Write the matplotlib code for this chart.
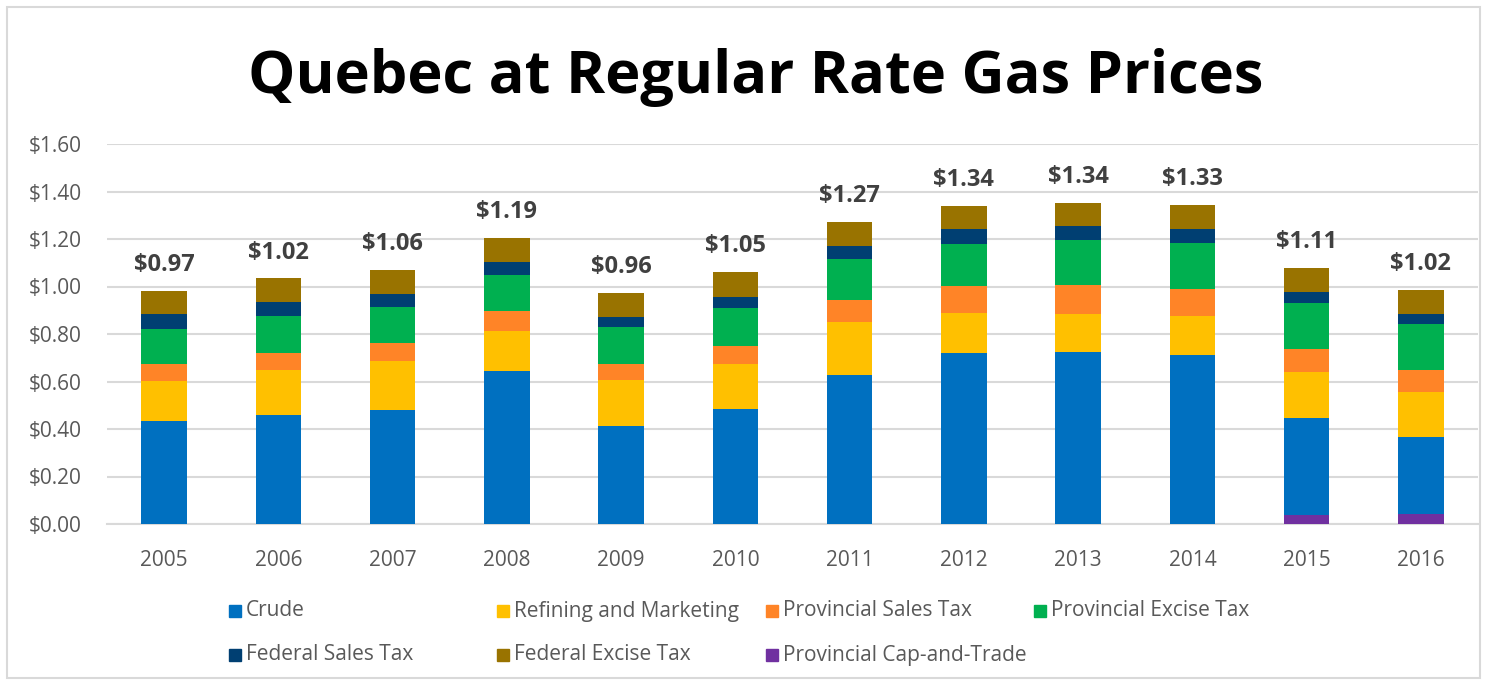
import matplotlib
matplotlib.use("Agg")
import matplotlib.pyplot as plt
import numpy as np
from matplotlib.patches import Rectangle

years = ["2005", "2006", "2007", "2008", "2009", "2010",
         "2011", "2012", "2013", "2014", "2015", "2016"]
crude = [0.434, 0.458, 0.481, 0.644, 0.414, 0.486, 0.626, 0.719, 0.723, 0.712, 0.412, 0.323]
refining = [0.168, 0.190, 0.207, 0.169, 0.192, 0.188, 0.226, 0.171, 0.163, 0.164, 0.192, 0.192]
prov_sales = [0.070, 0.073, 0.073, 0.083, 0.068, 0.077, 0.091, 0.111, 0.119, 0.115, 0.097, 0.091]
prov_excise = [0.149, 0.155, 0.153, 0.152, 0.154, 0.158, 0.173, 0.179, 0.189, 0.194, 0.192, 0.194]
fed_sales = [0.065, 0.057, 0.054, 0.055, 0.042, 0.048, 0.055, 0.062, 0.062, 0.057, 0.048, 0.044]
fed_excise = [0.096, 0.101, 0.101, 0.100, 0.101, 0.103, 0.099, 0.096, 0.097, 0.101, 0.101, 0.101]
cap_trade = [0, 0, 0, 0, 0, 0, 0, 0, 0, 0, 0.036, 0.042]
total_labels = ["$0.97", "$1.02", "$1.06", "$1.19", "$0.96", "$1.05",
                "$1.27", "$1.34", "$1.34", "$1.33", "$1.11", "$1.02"]
yticks = [0.0, 0.2, 0.4, 0.6, 0.8, 1.0, 1.2, 1.4, 1.6]

font = "Open Sans"
fig = plt.figure(figsize=(14.85, 6.81), dpi=100)
W, H = 1485, 681
ax = fig.add_axes([107 / W, 1 - 524 / H, (1478 - 107) / W, (524 - 144) / H])

x = np.arange(len(years))
bw = 0.4
bottom = np.zeros(len(years))
series = [
    ("Provincial Cap-and-Trade", cap_trade, "#7030A0"),
    ("Crude", crude, "#0070C0"),
    ("Refining and Marketing", refining, "#FFC000"),
    ("Provincial Sales Tax", prov_sales, "#FF8427"),
    ("Provincial Excise Tax", prov_excise, "#00B050"),
    ("Federal Sales Tax", fed_sales, "#003F72"),
    ("Federal Excise Tax", fed_excise, "#997300"),
]
for name, vals, col in series:
    v = np.array(vals)
    ax.bar(x, v, bw, bottom=bottom, color=col, zorder=3)
    bottom = bottom + v

for i, lab in enumerate(total_labels):
    ax.annotate(lab, (x[i], bottom[i]), xytext=(0, 10), textcoords="offset points",
                ha="center", va="bottom", fontsize=17, fontweight="bold",
                color="#404040", family=font)

ax.set_xlim(-0.5, len(years) - 0.5)
ax.set_ylim(0, 1.6)
ax.set_yticks(yticks)
ax.set_yticklabels([f"${t:.2f}" for t in yticks], family=font, fontsize=15, color="#595959")
ax.set_xticks(x)
ax.set_xticklabels(years, family=font, fontsize=15, color="#595959")
ax.tick_params(axis="both", length=0)
ax.tick_params(axis="y", pad=18)
ax.tick_params(axis="x", pad=19)
ax.yaxis.grid(True, color="#D9D9D9", linewidth=1.5, zorder=0)
for s in ["top", "right", "left"]:
    ax.spines[s].set_visible(False)
ax.spines["bottom"].set_color("#D9D9D9")
ax.spines["bottom"].set_linewidth(1.5)

fig.text(756 / W, 1 - 93 / H, "Quebec at Regular Rate Gas Prices", ha="center", va="baseline",
         fontsize=42.8, fontweight="bold", family=font, color="black")

order = ["Crude", "Refining and Marketing", "Provincial Sales Tax", "Provincial Excise Tax",
         "Federal Sales Tax", "Federal Excise Tax", "Provincial Cap-and-Trade"]
col_x = [246, 514, 783, 1051]
row_y = [611, 655]
for k, name in enumerate(order):
    r, c = divmod(k, 4)
    px, py = col_x[c], row_y[r]
    col = [s[2] for s in series if s[0] == name][0]
    fig.patches.append(Rectangle(((px - 17) / W, 1 - (py + 6) / H), 12 / W, 12 / H,
                                 transform=fig.transFigure, color=col, figure=fig))
    fig.text(px / W, 1 - py / H, name, ha="left", va="center", fontsize=15,
             family=font, color="#595959")

fig.patches.append(Rectangle((7 / W, 3 / H), (W - 12) / W, (H - 10) / H, transform=fig.transFigure,
                             fill=False, edgecolor="#D9D9D9", linewidth=1.5, figure=fig))

fig.savefig("out.png", dpi=100)
